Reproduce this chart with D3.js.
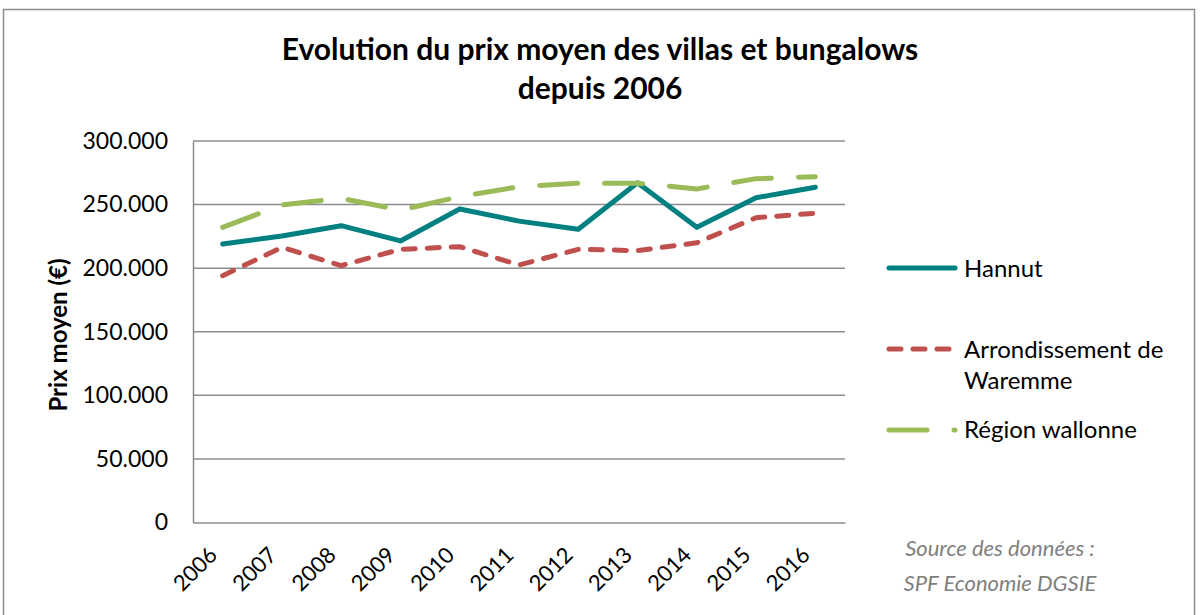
<!DOCTYPE html>
<html lang="fr">
<head>
  <meta charset="UTF-8">
  <title>Evolution du prix moyen des villas et bungalows</title>
  <script src="https://d3js.org/d3.v7.min.js"></script>
  <style>
    body {
      margin: 0;
      background: #ffffff;
      font-family: Lato, "Open Sans", sans-serif;
    }
    svg text { fill: #000; }
  </style>
</head>
<body>
<div id="chart"></div>

<script>
// data
const years = ["2006", "2007", "2008", "2009", "2010", "2011", "2012", "2013", "2014", "2015", "2016"];
const hannut = [219000, 225300, 233400, 221400, 246500, 237000, 230600, 267200, 232100, 255400, 263600];
const waremme = [194100, 216400, 202000, 214800, 216900, 202500, 214800, 213800, 220000, 239700, 243200];
const wallonie = [232100, 249700, 254900, 245700, 256200, 264100, 266800, 266800, 262300, 270400, 271900];
const yTicks = [0, 50000, 100000, 150000, 200000, 250000, 300000];

const W = 1200, H = 615;
const plot = { left: 193, right: 845, top: 141, bottom: 522.5 };

const svg = d3.select("#chart").append("svg")
    .attr("width", W)
    .attr("height", H);

// outer chart border
svg.append("rect")
    .attr("x", 3.5).attr("y", 9.5)
    .attr("width", 1191).attr("height", 620)
    .attr("fill", "none")
    .attr("stroke", "#8c8c8c")
    .attr("stroke-width", 1.5);

const x = d3.scaleBand()
    .domain(years)
    .range([plot.left, plot.right]);

const y = d3.scaleLinear()
    .domain([0, 300000])
    .range([plot.bottom, plot.top]);

const fmt = v => d3.format(",")(v).replace(/,/g, ".");

// gridlines
svg.append("g")
  .selectAll("line")
  .data(yTicks.filter(d => d > 0))
  .join("line")
    .attr("x1", plot.left).attr("x2", plot.right)
    .attr("y1", d => y(d)).attr("y2", d => y(d))
    .attr("stroke", "#8c8c8c")
    .attr("stroke-width", 1.5);

// y axis
const yAxis = svg.append("g")
    .attr("transform", `translate(${plot.left},0)`)
    .call(d3.axisLeft(y).tickValues(yTicks).tickFormat(fmt).tickSize(0).tickPadding(25));
yAxis.select(".domain").attr("stroke", "#8c8c8c").attr("stroke-width", 1.5);
yAxis.selectAll("text")
    .attr("font-family", "Lato, sans-serif")
    .attr("font-size", 23)
    .attr("fill", "#000");

// x axis
const xAxis = svg.append("g")
    .attr("transform", `translate(0,${plot.bottom})`)
    .call(d3.axisBottom(x).tickSize(0).tickPadding(0));
xAxis.select(".domain").attr("stroke", "#8c8c8c").attr("stroke-width", 1.5);
xAxis.selectAll("text")
    .attr("font-family", "Lato, sans-serif")
    .attr("font-size", 22)
    .attr("fill", "#000")
    .attr("text-anchor", "end")
    .attr("dy", 0)
    .attr("transform", "translate(-4,34) rotate(-45)");

// y axis title
svg.append("text")
    .attr("transform", "translate(67,335) rotate(-90)")
    .attr("text-anchor", "middle")
    .attr("font-size", 24)
    .attr("font-weight", "bold")
    .text("Prix moyen (€)");

// title
const title = svg.append("text")
    .attr("text-anchor", "middle")
    .attr("font-size", 30)
    .attr("font-weight", "bold");
title.append("tspan").attr("x", 600).attr("y", 60).text("Evolution du prix moyen des villas et bungalows");
title.append("tspan").attr("x", 600).attr("y", 99).text("depuis 2006");

const series = [
  { name: "Hannut", values: hannut, color: "#008080", dash: null },
  { name: "Arrondissement de Waremme", values: waremme, color: "#c0504d", dash: "12 12" },
  { name: "Région wallonne", values: wallonie, color: "#9bbb59", dash: "38 27" }
];

const line = d3.line()
    .x((d, i) => x(years[i]) + x.bandwidth() / 2)
    .y(d => y(d));

series.forEach(s => {
  svg.append("path")
      .datum(s.values)
      .attr("d", line)
      .attr("fill", "none")
      .attr("stroke", s.color)
      .attr("stroke-width", 5)
      .attr("stroke-linecap", "round")
      .attr("stroke-linejoin", "round")
      .attr("stroke-dasharray", s.dash);
});

// legend
const legend = svg.append("g").attr("font-size", 24);
const legendRows = [
  { s: series[0], lineY: 268, lines: ["Hannut"], textY: 277 },
  { s: series[1], lineY: 349, lines: ["Arrondissement de"], textY: 358 },
  { s: series[1], lineY: null, lines: ["Waremme"], textY: 389 },
  { s: series[2], lineY: 430, lines: ["Région wallonne"], textY: 438 }
];
legendRows.forEach(r => {
  if (r.lineY !== null) {
    legend.append("line")
        .attr("x1", 889).attr("x2", 955)
        .attr("y1", r.lineY).attr("y2", r.lineY)
        .attr("stroke", r.s.color)
        .attr("stroke-width", 5)
        .attr("stroke-linecap", "round")
        .attr("stroke-dasharray", r.s.dash);
  }
  legend.append("text").attr("x", 964).attr("y", r.textY).text(r.lines[0]);
});

// source note
const src = svg.append("text")
    .attr("text-anchor", "middle")
    .attr("font-size", 22)
    .attr("font-style", "italic")
    .style("fill", "#808080");
src.append("tspan").attr("x", 1000).attr("y", 556).text("Source des données :");
src.append("tspan").attr("x", 1000).attr("y", 591).text("SPF Economie DGSIE");
</script>
</body>
</html>
